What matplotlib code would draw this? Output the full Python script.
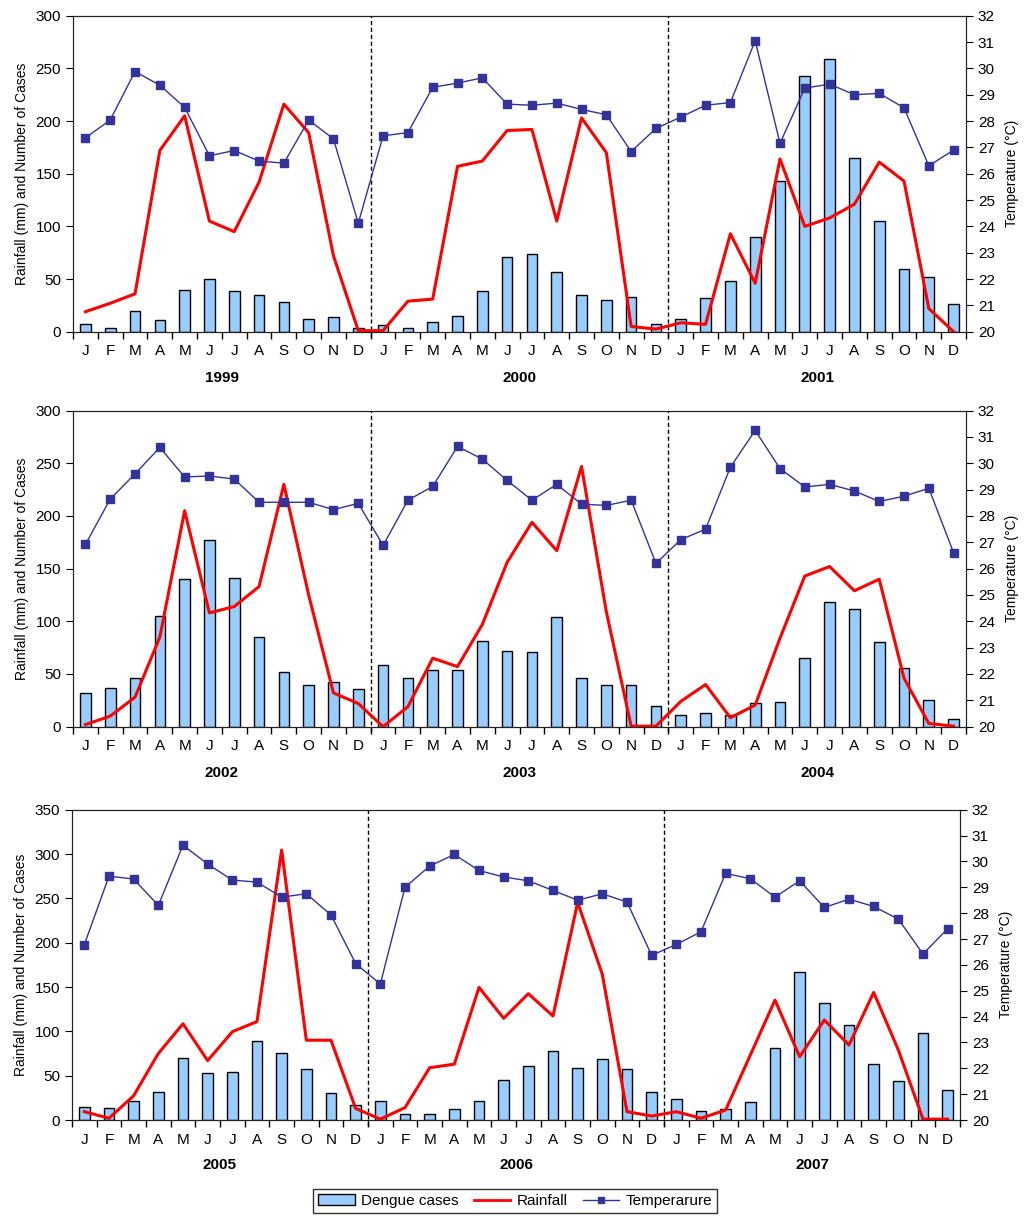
import matplotlib.pyplot as plt
from matplotlib.patches import Patch
from matplotlib.lines import Line2D

plt.rcParams['font.family'] = ['Liberation Sans', 'DejaVu Sans']

months = ['J', 'F', 'M', 'A', 'M', 'J', 'J', 'A', 'S', 'O', 'N', 'D']

# panel 1: 1999-2001
years_p1 = ['1999', '2000', '2001']
cases_p1 = [7, 4, 20, 11, 40, 50, 39, 35, 28, 12, 14, 4,
            6, 4, 9, 15, 39, 71, 74, 57, 35, 30, 33, 7,
            12, 32, 48, 90, 143, 243, 259, 165, 105, 60, 52, 26]
rain_p1 = [19, 27, 36, 172, 205, 105, 95, 142, 216, 189, 72, 1,
           1, 29, 31, 157, 162, 191, 192, 105, 203, 170, 5, 2.5,
           8.5, 7, 93, 46, 164, 100, 108, 121, 161, 143, 22, 0]
temp_p1 = [27.36, 28.04, 29.88, 29.36, 28.52, 26.68, 26.88, 26.48, 26.4, 28.04, 27.32, 24.12,
           27.44, 27.56, 29.28, 29.44, 29.64, 28.64, 28.6, 28.68, 28.44, 28.24, 26.84, 27.72,
           28.15, 28.6, 28.7, 31.05, 27.15, 29.25, 29.4, 29.0, 29.05, 28.5, 26.3, 26.9]

# panel 2: 2002-2004
years_p2 = ['2002', '2003', '2004']
cases_p2 = [32, 37, 46, 105, 140, 177, 141, 85, 52, 40, 42, 36,
            59, 46, 54, 54, 81, 72, 71, 104, 46, 40, 40, 20,
            11, 13, 11, 22, 23, 65, 118, 112, 80, 56, 25, 7]
rain_p2 = [2, 10, 28, 85, 205, 108, 114, 133, 230, 125, 32, 22,
           0, 19, 65, 57, 97, 156, 194, 167, 247, 109, 0.5, 0.5,
           24, 40, 8.5, 20.5, 84, 143, 152, 129, 140, 46, 3, 0.5]
temp_p2 = [26.92, 28.64, 29.6, 30.6, 29.48, 29.52, 29.4, 28.52, 28.52, 28.52, 28.24, 28.48,
           26.88, 28.6, 29.12, 30.64, 30.16, 29.35, 28.6, 29.2, 28.45, 28.4, 28.6, 26.2,
           27.1, 27.5, 29.85, 31.25, 29.8, 29.1, 29.2, 28.95, 28.55, 28.75, 29.05, 26.6]

# panel 3: 2005-2007
years_p3 = ['2005', '2006', '2007']
cases_p3 = [14.7, 13.5, 21.8, 31.6, 70, 53, 54, 89, 76, 58, 30.5, 17.3,
            21.8, 6.4, 6.4, 12.4, 21.8, 45.5, 61.3, 78.2, 59, 68.4, 58, 31.6,
            24, 9.8, 12.4, 20.7, 81.6, 166.5, 132, 106.8, 63.5, 44.4, 98, 33.5]
rain_p3 = [9.4, 2, 27.4, 75, 108.6, 67, 99.6, 111, 304.5, 90, 90, 13,
           1, 14, 59, 63, 149.6, 114.7, 142.5, 117.3, 245.5, 164.3, 9.4, 4.5,
           9.4, 2, 11.3, 73.3, 135.3, 71.4, 112.8, 84.6, 144, 79, 1, 1]
temp_p3 = [26.78, 29.43, 29.32, 28.3, 30.63, 29.9, 29.28, 29.2, 28.62, 28.75, 27.93, 26.05,
           25.26, 29.0, 29.82, 30.27, 29.65, 29.4, 29.25, 28.88, 28.5, 28.75, 28.43, 26.37,
           26.79, 27.28, 29.54, 29.33, 28.62, 29.25, 28.22, 28.54, 28.26, 27.77, 26.42, 27.4]

bar_color = '#99CCFF'
rain_color = '#FF0000'
temp_color = '#333399'


def draw_panel(rect, cases, rain, temp, years, ymax, year_y):
    ax = fig.add_axes(rect)
    x = [i + 0.5 for i in range(len(cases))]
    ax.bar(x, cases, width=0.43, color=bar_color, edgecolor='black', linewidth=1, zorder=2)
    ax.plot(x, rain, color=rain_color, linewidth=2.2, zorder=3)
    ax.set_xlim(0, 36)
    ax.set_ylim(0, ymax)
    ax.set_yticks(range(0, ymax + 1, 50))
    ax.set_xticks(range(0, 37))
    ax.set_xticklabels([])
    ax.set_xticks(x, minor=True)
    ax.set_xticklabels(months * 3, minor=True)
    ax.tick_params(axis='x', which='major', direction='out', length=5, width=1)
    ax.tick_params(axis='x', which='minor', length=0, pad=9, labelsize=11)
    ax.tick_params(axis='y', direction='out', length=5, labelsize=11)
    ax.set_ylabel('Rainfall (mm) and Number of Cases', fontsize=10, labelpad=5)
    # dashed year separators, running down to the tick marks
    for xb in (12, 24):
        ax.plot([xb, xb], [-0.018, 1], transform=ax.get_xaxis_transform(), clip_on=False,
                color='black', linestyle=(0, (3, 2)), linewidth=1, zorder=1)
    for k, yr in enumerate(years):
        ax.text(6 + 12 * k, year_y, yr, transform=ax.get_xaxis_transform(),
                ha='center', va='center', fontsize=11, fontweight='bold')

    ax2 = ax.twinx()
    ax2.plot(x, temp, color=temp_color, linewidth=1, marker='s', markersize=5.5,
             markeredgecolor=temp_color, zorder=4)
    ax2.set_ylim(20, 32)
    ax2.set_yticks(range(20, 33))
    ax2.tick_params(axis='y', direction='out', length=5, labelsize=11)
    ax2.set_ylabel('Temperature (°C)', fontsize=10, labelpad=7)
    for a in (ax, ax2):
        for s in a.spines.values():
            s.set_color('#222222')
    return ax


fig = plt.figure(figsize=(10.24, 12.25), dpi=100)

draw_panel([0.0713, 0.7292, 0.8721, 0.258], cases_p1, rain_p1, temp_p1, years_p1, 300, -0.145)
draw_panel([0.0713, 0.4068, 0.8721, 0.258], cases_p2, rain_p2, temp_p2, years_p2, 300, -0.148)
draw_panel([0.0703, 0.0857, 0.8672, 0.2533], cases_p3, rain_p3, temp_p3, years_p3, 350, -0.145)

handles = [Patch(facecolor=bar_color, edgecolor='black', linewidth=1),
           Line2D([], [], color=rain_color, linewidth=2),
           Line2D([], [], color=temp_color, linewidth=1, marker='s', markersize=5)]
leg = fig.legend(handles, ['Dengue cases', 'Rainfall', 'Temperarure'], ncol=3,
                 loc='center', bbox_to_anchor=(0.503, 0.0195), fontsize=11,
                 frameon=True, fancybox=False, edgecolor='black',
                 handlelength=2.4, handletextpad=0.4, columnspacing=1.0,
                 borderpad=0.35)
leg.get_frame().set_linewidth(1)

fig.savefig('out.png', dpi=100)
